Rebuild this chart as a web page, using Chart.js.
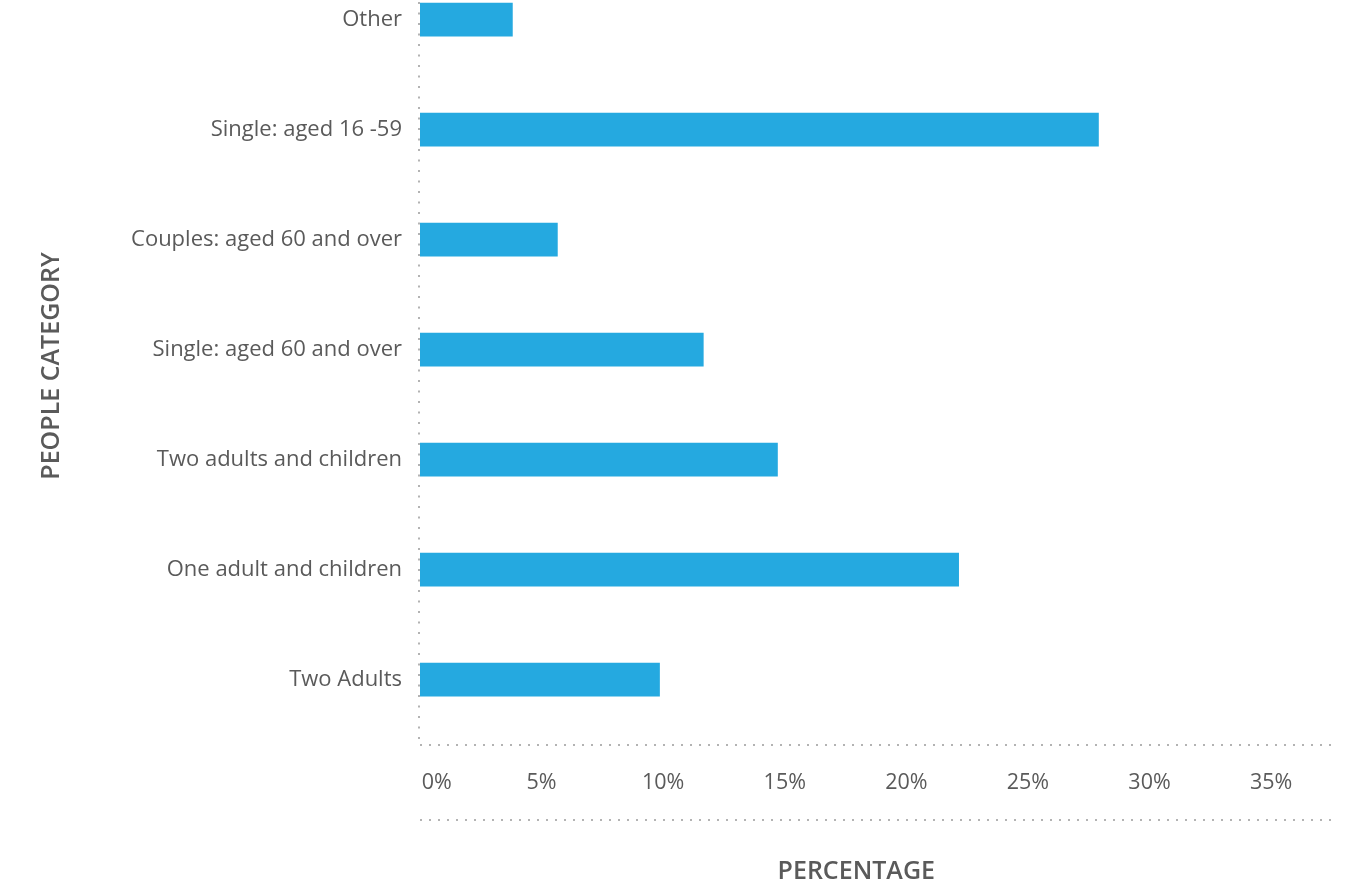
<!DOCTYPE html>
<html><head><meta charset="utf-8">
<script src="https://cdn.jsdelivr.net/npm/chart.js@4.4.0/dist/chart.umd.min.js"></script>
<style>html,body{margin:0;padding:0;background:#fff}#wrap{width:1351px;height:889px;position:relative}</style>
</head><body><div id="wrap"><canvas id="c"></canvas></div>
<script>
const categories = ['Other', 'Single: aged 16 -59', 'Couples: aged 60 and over', 'Single: aged 60 and over', 'Two adults and children', 'One adult and children', 'Two Adults'];
const percentages = [3.8, 27.9, 5.65, 11.65, 14.7, 22.15, 9.85];
const xTickValues = [0, 5, 10, 15, 20, 25, 30, 35];
const xTickLabels = ['0%', '5%', '10%', '15%', '20%', '25%', '30%', '35%'];
const xTitle = 'PERCENTAGE';
const yTitle = 'PEOPLE CATEGORY';

const FONT = "'Open Sans', 'DejaVu Sans', sans-serif";
const TEXT = '#5a5a5a';
const DOT = '#b3b3b3';

function dotted(ctx, x1, y1, x2, y2, dash) {
  ctx.save();
  ctx.setLineDash(dash);
  ctx.strokeStyle = DOT;
  ctx.lineWidth = 2;
  ctx.beginPath();
  ctx.moveTo(x1, y1);
  ctx.lineTo(x2, y2);
  ctx.stroke();
  ctx.restore();
}

const axisLines = {
  id: 'axisLines',
  afterDatasetsDraw(chart) {
    const a = chart.chartArea, ctx = chart.ctx;
    const xs = chart.scales.x;
    dotted(ctx, a.left - 1, a.top + 2, a.left - 1, a.bottom, [2, 8.5]);
    dotted(ctx, a.left, a.bottom, a.right, a.bottom, [2, 7]);
    dotted(ctx, a.left, xs.top + 75, a.right, xs.top + 75, [2, 7]);
  }
};

new Chart(document.getElementById('c'), {
  type: 'bar',
  data: {
    datasets: [{
      data: percentages.map((v, i) => ({ x: v, y: i })),
      backgroundColor: '#25A9E0',
      barThickness: 33
    }]
  },
  plugins: [axisLines],
  options: {
    indexAxis: 'y',
    responsive: true,
    maintainAspectRatio: false,
    animation: false,
    layout: { padding: { left: 0, right: 13, top: 0, bottom: 0 } },
    plugins: { legend: { display: false }, tooltip: { enabled: false } },
    scales: {
      x: {
        type: 'linear', min: 0, max: 37.75, offset: false,
        afterFit(s) { s.height = 144; s.paddingLeft = 0; s.paddingRight = 0; },
        ticks: {
          stepSize: 5, includeBounds: false, padding: 25, maxRotation: 0, autoSkip: false,
          font: { family: FONT, size: 21.5 }, color: TEXT,
          callback: (v) => { const i = xTickValues.indexOf(v); if (i < 0) return ''; return i === 0 ? '      ' + xTickLabels[i] : xTickLabels[i]; }
        },
        grid: { display: false, drawTicks: false },
        border: { display: false },
        title: { display: true, text: xTitle + '       ', color: TEXT, font: { family: FONT, size: 25, weight: '600' }, padding: { top: 0, bottom: 2 } }
      },
      y: {
        type: 'linear', reverse: true, min: -0.179, max: 6.594, offset: false,
        afterFit(s) { s.width = 420; s.paddingTop = 0; s.paddingBottom = 0; },
        afterBuildTicks(s) { s.ticks = categories.map((c, i) => ({ value: i })); },
        ticks: {
          padding: 18, autoSkip: false,
          font: { family: FONT, size: 22 }, color: TEXT,
          callback: (v) => categories[v]
        },
        grid: { display: false, drawTicks: false },
        border: { display: false },
        title: { display: true, text: '  ' + yTitle, color: TEXT, font: { family: FONT, size: 25, weight: '600' }, padding: { top: 37, bottom: 0 } }
      }
    }
  }
});
</script></body></html>
